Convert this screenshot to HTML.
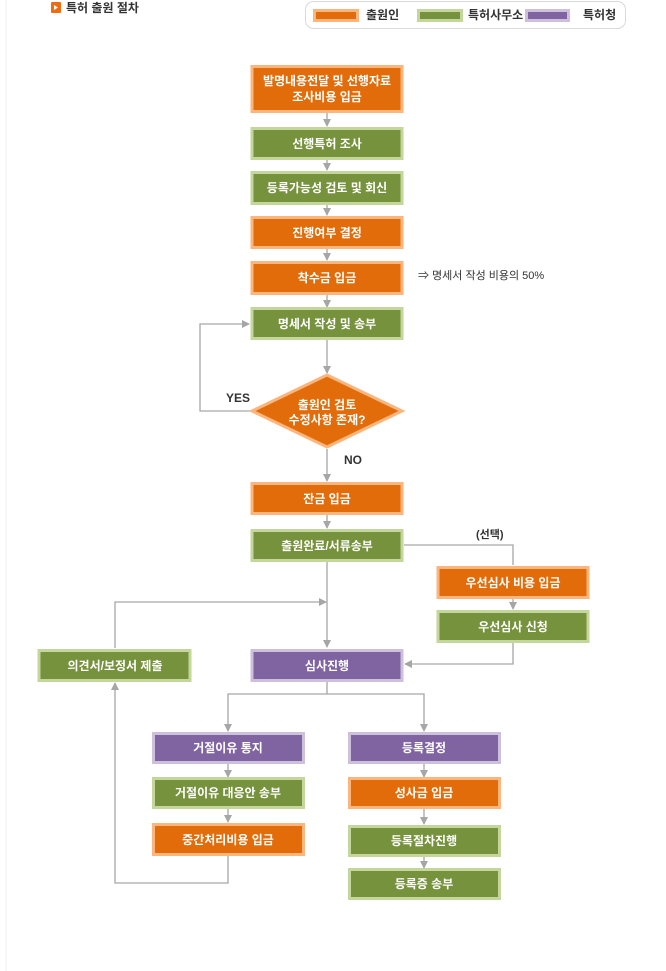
<!DOCTYPE html>
<html><head><meta charset="utf-8"><style>
html,body{margin:0;padding:0;background:#fff;}
svg{display:block;}
text{font-family:"Liberation Sans","Noto Sans CJK KR",sans-serif;}
.t{fill:#fff;font-size:12px;font-weight:bold;text-anchor:middle;}
.o{fill:#e36c0a;stroke:#fbb57d;stroke-width:3;}
.g{fill:#76923c;stroke:#c3d69b;stroke-width:3;}
.p{fill:#8064a2;stroke:#ccc0da;stroke-width:3;}
.l{stroke:#a6a6a6;stroke-width:1.3;fill:none;}
.k{fill:#333;font-size:12px;font-weight:bold;}
</style></head><body>
<svg width="666" height="971" viewBox="0 0 666 971">
<defs><marker id="a" markerWidth="8" markerHeight="8" refX="7" refY="4" orient="auto" markerUnits="userSpaceOnUse"><path d="M0,0 L8,4 L0,8 z" fill="#a6a6a6"/></marker></defs>
<line x1="6" y1="0" x2="6" y2="971" stroke="#f7f7f7" stroke-width="2"/>
<rect x="51" y="2" width="10" height="11" rx="1" fill="#f26b0f"/><path d="M54,5 L58,7.5 L54,10 z" fill="#fff"/>
<text x="66" y="12" class="k" font-size="13">특허 출원 절차</text>
<rect x="305.5" y="1.5" width="320" height="27" rx="8" fill="#fff" stroke="#d9d9d9"/>
<rect x="314.5" y="10.5" width="43" height="10" class="o" stroke-width="2.5"/><text x="366" y="19" class="k" font-size="11">출원인</text>
<rect x="418.5" y="10.5" width="43" height="10" class="g" stroke-width="2.5"/><text x="468" y="19" class="k" font-size="11">특허사무소</text>
<rect x="526.5" y="10.5" width="42" height="10" class="p" stroke-width="2.5"/><text x="583" y="19" class="k" font-size="11">특허청</text>

<line class="l" x1="327" y1="113" x2="327" y2="126" marker-end="url(#a)"/>
<line class="l" x1="327" y1="160" x2="327" y2="170" marker-end="url(#a)"/>
<line class="l" x1="327" y1="205" x2="327" y2="215" marker-end="url(#a)"/>
<line class="l" x1="327" y1="249" x2="327" y2="260" marker-end="url(#a)"/>
<line class="l" x1="327" y1="295" x2="327" y2="307" marker-end="url(#a)"/>
<line class="l" x1="327" y1="339" x2="327" y2="373" marker-end="url(#a)"/>
<line class="l" x1="327" y1="449" x2="327" y2="481" marker-end="url(#a)"/>
<line class="l" x1="327" y1="515" x2="327" y2="528" marker-end="url(#a)"/>
<line class="l" x1="327" y1="562" x2="327" y2="647" marker-end="url(#a)"/>
<polyline class="l" points="250,411 200,411 200,324 249,324" marker-end="url(#a)"/>
<polyline class="l" points="404,545 513,545 513,565"/>
<line class="l" x1="513" y1="599" x2="513" y2="609" marker-end="url(#a)"/>
<polyline class="l" points="513,643 513,664 405,664" marker-end="url(#a)"/>
<polyline class="l" points="115,648 115,602 326,602" marker-end="url(#a)"/>
<polyline class="l" points="228,856 228,883 115,883 115,683" marker-end="url(#a)"/>
<polyline class="l" points="327,682 327,694 228,694 228,731" marker-end="url(#a)"/>
<polyline class="l" points="327,694 424,694 424,731" marker-end="url(#a)"/>
<line class="l" x1="228" y1="764" x2="228" y2="777" marker-end="url(#a)"/>
<line class="l" x1="228" y1="809" x2="228" y2="822" marker-end="url(#a)"/>
<line class="l" x1="424" y1="764" x2="424" y2="777" marker-end="url(#a)"/>
<line class="l" x1="424" y1="809" x2="424" y2="824" marker-end="url(#a)"/>
<line class="l" x1="424" y1="856" x2="424" y2="868" marker-end="url(#a)"/>

<rect x="252" y="66.5" width="150" height="45" class="o"/><text class="t" x="327" y="85">발명내용전달 및 선행자료</text><text class="t" x="327" y="101">조사비용 입금</text>
<rect x="252" y="128.5" width="150" height="30" class="g"/><text class="t" x="327" y="148">선행특허 조사</text>
<rect x="252" y="172.5" width="150" height="31" class="g"/><text class="t" x="327" y="192">등록가능성 검토 및 회신</text>
<rect x="252" y="217.5" width="150" height="30" class="o"/><text class="t" x="327" y="237">진행여부 결정</text>
<rect x="252" y="262.5" width="150" height="31" class="o"/><text class="t" x="327" y="282">착수금 입금</text>
<text x="418" y="279" fill="#333" font-size="11">⇒ 명세서 작성 비용의 50%</text>
<rect x="252" y="308.5" width="150" height="30" class="g"/><text class="t" x="327" y="328">명세서 작성 및 송부</text>
<polygon points="327,375 402,411 327,447 252,411" class="o"/>
<text class="t" x="327" y="409">출원인 검토</text><text class="t" x="327" y="424">수정사항 존재?</text>
<text x="226" y="402" class="k">YES</text>
<text x="344" y="464" class="k">NO</text>
<rect x="252" y="483.5" width="150" height="30" class="o"/><text class="t" x="327" y="503">잔금 입금</text>
<rect x="252" y="530.5" width="150" height="30" class="g"/><text class="t" x="327" y="550">출원완료/서류송부</text>
<text x="476" y="538" fill="#333" font-size="11" font-weight="bold">(선택)</text>
<rect x="438" y="567.5" width="150" height="30" class="o"/><text class="t" x="513" y="587">우선심사 비용 입금</text>
<rect x="438" y="611.5" width="150" height="30" class="g"/><text class="t" x="513" y="631">우선심사 신청</text>
<rect x="252" y="650.5" width="150" height="30" class="p"/><text class="t" x="327" y="670">심사진행</text>
<rect x="39" y="650.5" width="151" height="30" class="g"/><text class="t" x="115" y="670">의견서/보정서 제출</text>
<rect x="153.5" y="733.5" width="150" height="29" class="p"/><text class="t" x="228" y="752">거절이유 통지</text>
<rect x="153.5" y="778.5" width="150" height="29" class="g"/><text class="t" x="228" y="797">거절이유 대응안 송부</text>
<rect x="153.5" y="824.5" width="150" height="30" class="o"/><text class="t" x="228" y="844">중간처리비용 입금</text>
<rect x="349.5" y="733.5" width="150" height="29" class="p"/><text class="t" x="424" y="752">등록결정</text>
<rect x="349.5" y="778.5" width="150" height="29" class="o"/><text class="t" x="424" y="797">성사금 입금</text>
<rect x="349.5" y="826.5" width="150" height="29" class="g"/><text class="t" x="424" y="845">등록절차진행</text>
<rect x="349.5" y="869.5" width="150" height="29" class="g"/><text class="t" x="424" y="888">등록증 송부</text>
</svg>
</body></html>
